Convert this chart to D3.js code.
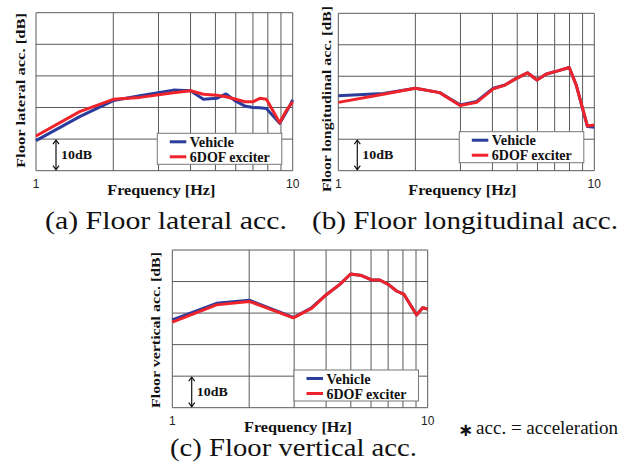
<!DOCTYPE html>
<html><head><meta charset="utf-8">
<script src="https://cdn.jsdelivr.net/npm/d3@7"></script>
<style>body{margin:0;background:#fff}svg{display:block}</style>
</head><body>
<svg id="c" width="630" height="468"></svg>
<script>
// ---- data (dB relative, 10 dB per grid division) ----
const lateralFreq   = [1, 1.48, 2, 2.54, 3.43, 4, 4.49, 5.06, 5.5, 6.0, 6.5, 7.0, 7.45, 7.9, 8.9, 9.47, 10];
const lateralVehicle= [9.5, 17.1, 22.2, 23.7, 25.5, 25.3, 22.6, 22.9, 24.3, 22.0, 20.5, 20.0, 19.9, 19.7, 15.0, 18.7, 22.4];
const lateralExciter= [11.0, 18.7, 22.6, 23.2, 24.7, 25.3, 24.2, 23.9, 23.4, 22.6, 21.8, 21.8, 22.9, 22.6, 15.2, 19.2, 21.8];

const longFreq      = [1, 1.5, 2, 2.49, 2.99, 3.47, 4.03, 4.48, 4.9, 5.48, 5.97, 6.5, 7.2, 7.98, 8.5, 9.4, 10];
const longVehicle   = [23.8, 24.5, 26.2, 24.8, 20.9, 22.0, 26.2, 27.2, 29.1, 31.1, 28.8, 30.7, 31.7, 32.8, 27.2, 14.0, 13.8];
const longExciter   = [21.7, 24.3, 26.2, 24.8, 20.7, 21.7, 26.0, 27.2, 29.1, 31.1, 28.8, 30.7, 31.7, 32.8, 27.2, 14.2, 14.5];

const vertFreq      = [1, 1.49, 2, 2.98, 3.51, 4.02, 4.53, 4.99, 5.51, 6.03, 6.49, 7.01, 7.55, 8.08, 9.05, 9.55, 10];
const vertVehicle   = [27.8, 33.1, 34.1, 28.6, 31.7, 35.9, 39.1, 42.4, 41.9, 40.5, 40.5, 39.1, 37.0, 35.9, 29.4, 31.7, 31.3];
const vertExciter   = [27.1, 32.6, 33.7, 28.5, 31.5, 35.9, 39.1, 42.4, 41.9, 40.5, 40.5, 39.1, 37.0, 35.9, 29.4, 31.7, 31.3];

const xTickLabels = [1, 10];
const yGrid = [0, 10, 20, 30, 40, 50];
const xGrid = [1, 2, 3, 4, 5, 6, 7, 8, 9, 10];
const seriesNames = ["Vehicle", "6DOF exciter"];
const seriesLens = [44, 80];
const seriesColors = ["#2b3c9c", "#f0232b"];

const svg = d3.select("#c");
const serif = "'Liberation Serif','DejaVu Serif',serif";
const bserif = serif;

function panel(cfg) {
  const x = d3.scaleLog().domain([1, 10]).range([cfg.l, cfg.r]);
  const y = d3.scaleLinear().domain([0, 50]).range([cfg.b, cfg.t]);
  const g = svg.append("g");
  // grid
  g.selectAll(".hg").data(yGrid).join("line")
    .attr("x1", cfg.l).attr("x2", cfg.r).attr("y1", d => y(d)).attr("y2", d => y(d))
    .attr("stroke", "#5a5a5a").attr("stroke-width", 1);
  g.selectAll(".vg").data(xGrid).join("line")
    .attr("x1", d => x(d)).attr("x2", d => x(d)).attr("y1", cfg.t).attr("y2", cfg.b)
    .attr("stroke", "#5a5a5a").attr("stroke-width", 1);
  // tick labels
  g.selectAll(".xt").data(xTickLabels).join("text")
    .attr("x", d => x(d)).attr("y", cfg.b + 17).attr("text-anchor", "middle")
    .attr("font-family", "'Liberation Sans',Arial,sans-serif").attr("font-size", 12)
    .attr("fill", "#222").text(d => d);
  // series
  const line = d3.line().x(d => x(d[0])).y(d => y(d[1]));
  [cfg.veh, cfg.exc].forEach((vals, i) => {
    g.append("path").datum(cfg.freq.map((f, k) => [f, vals[k]]))
      .attr("d", line).attr("fill", "none").attr("stroke", seriesColors[i])
      .attr("stroke-width", 3).attr("stroke-linejoin", "round");
  });
  // 10dB arrow
  const ax = cfg.l + cfg.arrowDx;
  const y0 = y(0), y1 = y(10);
  g.append("line").attr("x1", ax).attr("x2", ax).attr("y1", y1 + 1).attr("y2", y0 - 1)
    .attr("stroke", "#111").attr("stroke-width", 1.2);
  g.append("path").attr("d", `M${ax-3},${y1+5}L${ax},${y1+1}L${ax+3},${y1+5}`)
    .attr("fill", "none").attr("stroke", "#111").attr("stroke-width", 1.2);
  g.append("path").attr("d", `M${ax-3},${y0-5}L${ax},${y0-1}L${ax+3},${y0-5}`)
    .attr("fill", "none").attr("stroke", "#111").attr("stroke-width", 1.2);
  g.append("text").attr("x", ax + 5).attr("y", (y0 + y1) / 2 + 4.5)
    .attr("font-family", bserif).attr("font-weight", "bold").attr("font-size", 13.5)
    .attr("textLength", 31).attr("lengthAdjust", "spacingAndGlyphs")
    .attr("fill", "#111").text("10dB");
  // legend
  const lg = g.append("g").attr("transform", `translate(${cfg.lgx},${cfg.lgy})`);
  lg.append("rect").attr("width", 124.5).attr("height", 31).attr("fill", "#fff")
    .attr("stroke", "#777").attr("stroke-width", 1);
  seriesNames.forEach((n, i) => {
    lg.append("line").attr("x1", 12.5).attr("x2", 29).attr("y1", 8.5 + i * 15).attr("y2", 8.5 + i * 15)
      .attr("stroke", seriesColors[i]).attr("stroke-width", 3);
    lg.append("text").attr("x", 32.5).attr("y", 8.5 + i * 15 + 5)
      .attr("font-family", bserif).attr("font-weight", "bold").attr("font-size", 15)
      .attr("textLength", seriesLens[i]).attr("lengthAdjust", "spacingAndGlyphs")
      .attr("fill", "#111").text(n);
  });
  // axis title
  g.append("text").attr("x", (cfg.l + cfg.r) / 2 + cfg.xtDx).attr("y", cfg.b + 24.5)
    .attr("text-anchor", "middle").attr("font-family", bserif).attr("font-weight", "bold")
    .attr("font-size", 15.5).attr("fill", "#111")
    .attr("textLength", 108).attr("lengthAdjust", "spacingAndGlyphs").text("Frequency [Hz]");
  g.append("text").attr("transform", `translate(${cfg.ylx},${cfg.ylc}) rotate(-90)`)
    .attr("text-anchor", "middle").attr("font-family", bserif).attr("font-weight", "bold")
    .attr("font-size", 13.5).attr("fill", "#111")
    .attr("textLength", cfg.ylLen).attr("lengthAdjust", "spacingAndGlyphs").text(cfg.ylabel);
  // caption
  g.append("text").attr("x", cfg.capx).attr("y", cfg.capy).attr("text-anchor", "middle")
    .attr("font-family", serif).attr("font-size", 25).attr("fill", "#111")
    .attr("textLength", cfg.capLen).attr("lengthAdjust", "spacingAndGlyphs").text(cfg.caption);
}

panel({l: 36, r: 292.7, t: 12.7, b: 170.7, freq: lateralFreq, veh: lateralVehicle, exc: lateralExciter,
  arrowDx: 20, lgx: 157.3, lgy: 133.3, xtDx: -3, ylx: 25, ylc: 90.5, ylLen: 155,
  ylabel: "Floor lateral acc. [dB]", caption: "(a) Floor lateral acc.", capx: 166, capy: 229, capLen: 242});
panel({l: 338.3, r: 594.3, t: 13.3, b: 170.7, freq: longFreq, veh: longVehicle, exc: longExciter,
  arrowDx: 19, lgx: 459.3, lgy: 131.7, xtDx: -4, ylx: 331, ylc: 99, ylLen: 186,
  ylabel: "Floor longitudinal acc. [dB]", caption: "(b) Floor longitudinal acc.", capx: 465, capy: 229, capLen: 306});
panel({l: 172.3, r: 427.7, t: 250, b: 407.7, freq: vertFreq, veh: vertVehicle, exc: vertExciter,
  arrowDx: 19.4, lgx: 294, lgy: 370, xtDx: -2, ylx: 160, ylc: 330, ylLen: 156,
  ylabel: "Floor vertical acc. [dB]", caption: "(c) Floor vertical acc.", capx: 293.5, capy: 456, capLen: 247});

// footnote
const fn = svg.append("text").attr("x", 458).attr("y", 434).attr("fill", "#111");
fn.append("tspan").attr("font-family", "'DejaVu Sans',sans-serif").attr("font-weight", "bold")
  .attr("font-size", 18).attr("dy", 1.5).text("∗");
fn.append("tspan").attr("font-family", serif).attr("font-size", 19).attr("dx", 3).attr("dy", -1.5)
  .text("acc. = acceleration");
</script>
</body></html>
